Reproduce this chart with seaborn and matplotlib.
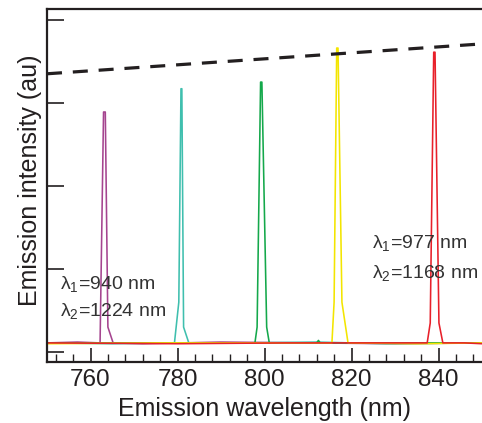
import matplotlib
matplotlib.use("Agg")
import matplotlib.pyplot as plt
from matplotlib.ticker import MultipleLocator
import seaborn as sns
import pandas as pd

sns.set_theme(style="ticks")
plt.rcParams['font.family'] = ['Liberation Sans', 'DejaVu Sans']
plt.rcParams['mathtext.fontset'] = 'custom'
plt.rcParams['mathtext.rm'] = 'Liberation Sans'
plt.rcParams['mathtext.it'] = 'Liberation Sans'
plt.rcParams['mathtext.default'] = 'regular'

# ---- data ----
wl_magenta = [750, 757, 762.2, 763.0, 763.4, 764.0, 765.2, 772, 790, 810, 830, 850]
in_magenta = [0.11, 0.12, 0.11, 2.89, 2.89, 0.30, 0.11, 0.10, 0.12, 0.11, 0.10, 0.11]

wl_teal = [750, 765, 779.3, 780.3, 780.8, 781.0, 781.4, 782.6, 795, 812, 828, 850]
in_teal = [0.11, 0.10, 0.11, 0.60, 3.17, 3.17, 0.30, 0.11, 0.11, 0.12, 0.10, 0.11]

wl_green = [750, 770, 797.8, 798.3, 799.1, 799.4, 800.5, 801.1, 812.0, 812.4, 812.8, 850]
in_green = [0.11, 0.11, 0.11, 0.30, 3.25, 3.25, 0.30, 0.11, 0.11, 0.14, 0.11, 0.11]

wl_yellow = [750, 775, 815.5, 816.0, 816.6, 816.9, 817.8, 819.2, 835, 850]
in_yellow = [0.10, 0.11, 0.11, 0.60, 3.66, 3.66, 0.60, 0.11, 0.10, 0.11]

wl_red = [750, 780, 805, 837.4, 838.1, 838.9, 839.2, 840.1, 841.0, 846, 850]
in_red = [0.11, 0.10, 0.11, 0.11, 0.35, 3.61, 3.61, 0.35, 0.11, 0.11, 0.10]

wl_dash = [750, 850]
in_dash = [3.35, 3.71]

series_names = ["magenta", "teal", "green", "yellow", "red"]
series_colors = ["#a5448f", "#3fbfae", "#14a84b", "#f3e500", "#e8202a"]

annot_left = [r"$\lambda_1$=940 nm", r"$\lambda_2$=1224 nm"]
annot_right = [r"$\lambda_1$=977 nm", r"$\lambda_2$=1168 nm"]

frames = []
for name, wl, it in zip(series_names,
                        [wl_magenta, wl_teal, wl_green, wl_yellow, wl_red],
                        [in_magenta, in_teal, in_green, in_yellow, in_red]):
    frames.append(pd.DataFrame({"wl": wl, "I": it, "s": name}))
df = pd.concat(frames, ignore_index=True)

ink = "#231f20"
fig = plt.figure(figsize=(4.82, 4.23), dpi=100)
ax = fig.add_axes([47/482, 61/423, 1 - 47/482, (362 - 9)/423])

sns.lineplot(data=df, x="wl", y="I", hue="s", palette=dict(zip(series_names, series_colors)),
             sort=False, estimator=None, linewidth=1.15, legend=False, ax=ax)
sns.lineplot(x=wl_dash, y=in_dash, color=ink, linewidth=2.3,
             ax=ax, estimator=None)
ax.lines[-1].set_dashes([4.7, 3.4])

ax.set_xlim(750, 850)
ax.set_ylim(-0.12, 4.13)
ax.xaxis.set_major_locator(MultipleLocator(20))
ax.xaxis.set_minor_locator(MultipleLocator(4))
ax.yaxis.set_major_locator(MultipleLocator(1))
ax.set_yticklabels([])
ax.tick_params(axis="x", which="major", direction="in", length=10, width=1.2,
               labelsize=17.5, colors=ink, pad=5)
ax.tick_params(axis="x", which="minor", direction="in", length=6, width=1.0, colors=ink)
ax.tick_params(axis="y", which="major", direction="in", length=12, width=1.2,
               colors=ink, left=True)
ax.tick_params(axis="y", which="minor", left=False)

for side in ["left", "top", "bottom"]:
    ax.spines[side].set_linewidth(1.6)
    ax.spines[side].set_color(ink)
ax.spines["right"].set_visible(False)

ax.set_xlabel("Emission wavelength (nm)", fontsize=18, color=ink, labelpad=4)
ax.set_ylabel("Emission intensity (au)", fontsize=18, color=ink)
ax.yaxis.set_label_coords(-0.012, 0.515)

tk = dict(transform=ax.transAxes, fontsize=14, color="#333333", va="center", ha="left")
ax.text(0.03, 0.221, annot_left[0], **tk)
ax.text(0.03, 0.144, annot_left[1], **tk)
ax.text(0.747, 0.338, annot_right[0], **tk)
ax.text(0.747, 0.253, annot_right[1], **tk)

fig.savefig("out.png", dpi=100)
